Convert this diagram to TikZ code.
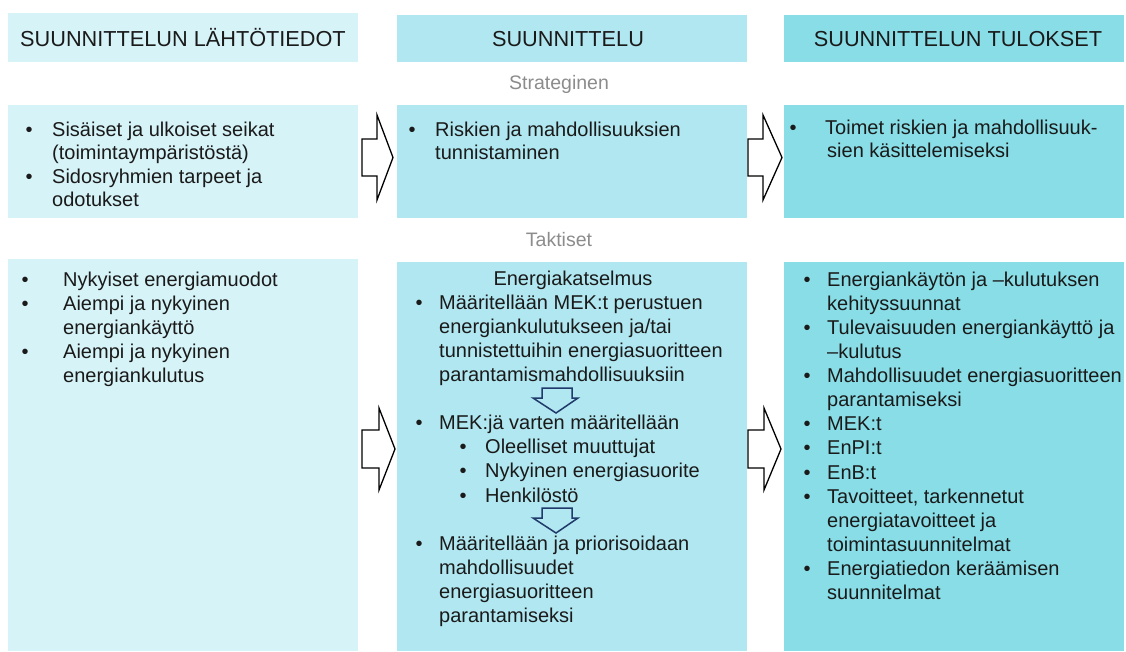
\documentclass[tikz,border=0pt]{standalone}
\usepackage{fontspec}
\setmainfont{Liberation Sans}
\definecolor{cA}{HTML}{D6F3F7}
\definecolor{cB}{HTML}{B0E7F0}
\definecolor{cC}{HTML}{88DDE6}
\definecolor{txt}{HTML}{1A1A1A}
\definecolor{gr}{HTML}{8C8C8C}
\definecolor{navy}{HTML}{203A6B}
\newcommand\bu[1]{\makebox[0pt][r]{\textbullet\hspace{#1pt}}}
\newcommand\fl{\rule{0pt}{20pt}}
\tikzset{
  boxA/.style={fill=cA, anchor=north west, inner sep=0pt},
  boxB/.style={fill=cB, anchor=north west, inner sep=0pt},
  boxC/.style={fill=cC, anchor=north west, inner sep=0pt},
  hdr/.style={font=\fontsize{21.7}{26}\selectfont, text=txt, anchor=base, inner sep=0pt},
  bodyA/.style={font=\fontsize{20}{23.5}\selectfont, text=txt, align=left, anchor=north west, inner sep=0pt},
  bodyB/.style={font=\fontsize{20}{24.1}\selectfont, text=txt, align=left, anchor=north west, inner sep=0pt},
  lbl/.style={font=\fontsize{19.5}{23}\selectfont, text=gr, anchor=base, inner sep=0pt},
  blk/.style={draw=black, line width=1.3pt, fill=white, line join=miter},
  dn/.style={draw=navy, line width=1.5pt, line join=miter},
}
\begin{document}
\begin{tikzpicture}[x=1pt,y=-1pt]
\useasboundingbox (0,0) rectangle (1126,651);
% header boxes
\node[boxA, minimum width=350pt, minimum height=49pt] (h1) at (8,13) {};
\node[boxB, minimum width=350pt, minimum height=47pt] (h2) at (397,15) {};
\node[boxC, minimum width=340pt, minimum height=47pt] (h3) at (784,15) {};
\node[hdr] (h1t) at (183,46.5) {SUUNNITTELUN LÄHTÖTIEDOT};
\node[hdr] (h2t) at (568,46.5) {SUUNNITTELU};
\node[hdr] (h3t) at (958,46.5) {SUUNNITTELUN TULOKSET};
% labels
\node[lbl] (l1) at (559,89) {Strateginen};
\node[lbl] (l2) at (559,246) {Taktiset};
% row 1 boxes
\node[boxA, minimum width=350pt, minimum height=113pt] (a1) at (8,105) {};
\node[boxB, minimum width=350pt, minimum height=113pt] (b1) at (397,105) {};
\node[boxC, minimum width=340pt, minimum height=113pt] (c1) at (784,105) {};
% row 2 boxes
\node[boxA, minimum width=350pt, minimum height=392pt] (a2) at (8,259) {};
\node[boxB, minimum width=350pt, minimum height=389pt] (b2) at (397,262) {};
\node[boxC, minimum width=340pt, minimum height=389pt] (c2) at (784,262) {};
% row 1 texts (first baseline = y + 20)
\node[bodyA] (a1t) at (52,116) {\fl\bu{19.5}Sisäiset ja ulkoiset seikat\\(toimintaympäristöstä)\\\bu{19.5}Sidosryhmien tarpeet ja\\odotukset};
\node[bodyA] (b1t) at (435,116) {\fl\bu{19.5}Riskien ja mahdollisuuksien\\tunnistaminen};
\node[bodyA] (c1t) at (825,114) {\fl\bu{28.5}Toimet riskien ja mahdollisuuk-\\\hspace*{2pt}sien käsittelemiseksi};
% row 2 texts
\node[bodyB] (a2t) at (63,266) {\fl\bu{34.5}Nykyiset energiamuodot\\\bu{34.5}Aiempi ja nykyinen\\energiankäyttö\\\bu{34.5}Aiempi ja nykyinen\\energiankulutus};
\node[font=\fontsize{20}{24.1}\selectfont, text=txt, anchor=base, inner sep=0pt] (b2h) at (573,285) {Energiakatselmus};
\node[bodyB] (b2t) at (439,289) {\fl\bu{16.5}Määritellään MEK:t perustuen\\energiankulutukseen ja/tai\\tunnistettuihin energiasuoritteen\\parantamismahdollisuuksiin\\[24.1pt]
\bu{16.5}MEK:jä varten määritellään\\\hspace*{46pt}\bu{18.5}Oleelliset muuttujat\\\hspace*{46pt}\bu{18.5}Nykyinen energiasuorite\\\hspace*{46pt}\bu{18.5}Henkilöstö\\[24.1pt]
\bu{16.5}Määritellään ja priorisoidaan\\mahdollisuudet\\energiasuoritteen\\parantamiseksi};
\node[bodyB] (c2t) at (827,266) {\fl\bu{16.5}Energiankäytön ja –kulutuksen\\kehityssuunnat\\\bu{16.5}Tulevaisuuden energiankäyttö ja\\–kulutus\\\bu{16.5}Mahdollisuudet energiasuoritteen\\parantamiseksi\\\bu{16.5}MEK:t\\\bu{16.5}EnPI:t\\\bu{16.5}EnB:t\\\bu{16.5}Tavoitteet, tarkennetut\\energiatavoitteet ja\\toimintasuunnitelmat\\\bu{16.5}Energiatiedon keräämisen\\suunnitelmat};
% block arrows row 1
\draw[blk] (362,139) -- (377,139) -- (377,115) -- (393,157.5) -- (377,200) -- (377,176) -- (362,176) -- cycle;
\draw[blk] (748,139) -- (763,139) -- (763,115) -- (782,157.5) -- (763,200) -- (763,176) -- (748,176) -- cycle;
% block arrows row 2
\draw[blk] (362,430) -- (379,430) -- (379,408) -- (395,449) -- (379,490) -- (379,468) -- (362,468) -- cycle;
\draw[blk] (748,430) -- (764,430) -- (764,408) -- (781,449) -- (764,490) -- (764,468) -- (748,468) -- cycle;
% down arrows in middle box
\draw[dn] (542,388) -- (542,398) -- (533,398) -- (556,413) -- (578,398) -- (572,398) -- (572,388) -- cycle;
\draw[dn] (542,508) -- (542,518) -- (533,518) -- (556,533) -- (578,518) -- (572,518) -- (572,508) -- cycle;
\end{tikzpicture}
\end{document}
